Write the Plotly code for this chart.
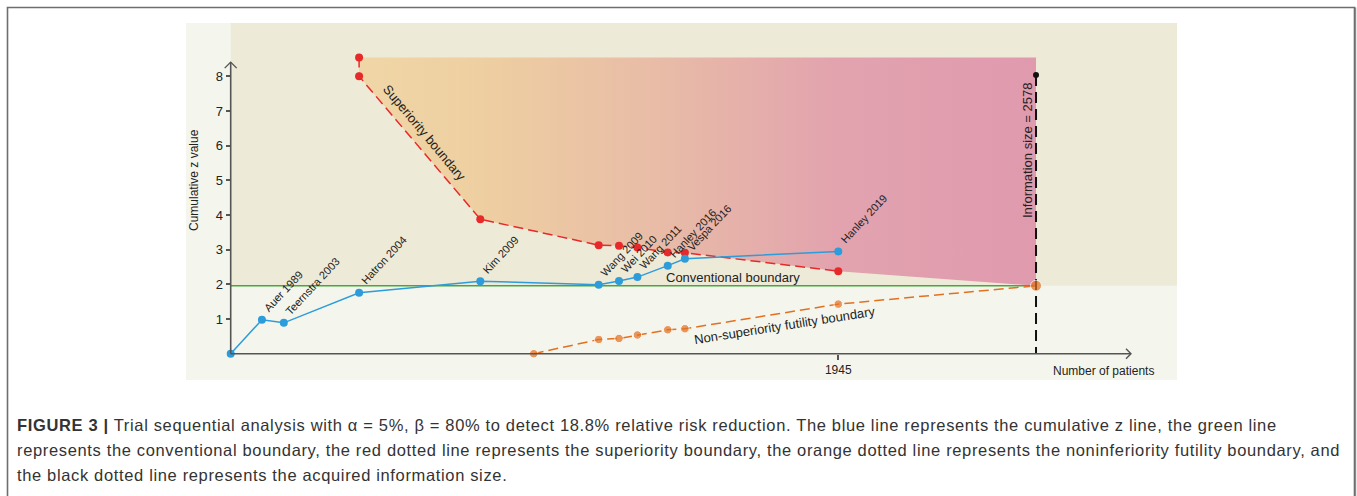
import plotly.graph_objects as go

W, H = 1357, 496

# Cumulative z curve (one point per added trial)
studies = ["Auer 1989", "Teernstra 2003", "Hatron 2004", "Kim 2009", "Wang 2009",
           "Wei 2010", "Wang 2011", "Hanley 2016", "Vespa 2016", "Hanley 2019"]
patients = [100, 170, 411, 799, 1178, 1243, 1302, 1399, 1454, 1945]
cum_z = [0.98, 0.89, 1.76, 2.09, 1.99, 2.10, 2.21, 2.54, 2.74, 2.95]

# Trial sequential monitoring boundaries
sup_n = [411, 411, 799, 1178, 1243, 1302, 1399, 1454, 1945]
sup_z = [8.54, 8.00, 3.88, 3.13, 3.11, 3.06, 2.92, 2.91, 2.38]

fut_n = [970, 1178, 1243, 1302, 1399, 1454, 1945, 2578]
fut_z = [0.00, 0.41, 0.44, 0.54, 0.69, 0.72, 1.43, 1.96]

conv_z = 1.96
info_size = 2578
info_top_z = 8.04
x_tick_vals = [1945]
y_tick_vals = [1, 2, 3, 4, 5, 6, 7, 8]

# Axis geometry
X_RANGE = [-143.1, 3029.3]
Y_RANGE = [-0.7586, 9.5384]
X_DOMAIN = [186 / W, 1177 / W]
Y_DOMAIN = [1 - 380 / H, 1 - 23 / H]
X_ARROW_END = 2882
Y_ARROW_END = 8.41
PX_PER_N = 991 / (X_RANGE[1] - X_RANGE[0])
PX_PER_Z = 357 / (Y_RANGE[1] - Y_RANGE[0])

BLUE = "#2D9CDA"
RED = "#E8292A"
ORANGE = "#E4701F"
GREEN = "#46A83B"
AXIS = "#555555"
BEIGE = "#EEEAD8"
PALE = "#F4F6EE"
FONT = "Liberation Sans, Arial, sans-serif"


def px(x):
    return x / W


def py(y):
    return 1 - y / H


fig = go.Figure()

# Region between the superiority boundary and the top of the panel
top_z = sup_z[0]
fill_x = [sup_n[0], info_size, info_size] + sup_n[::-1]
fill_y = [top_z, top_z, conv_z] + sup_z[::-1]
fig.add_trace(go.Scatter(
    x=fill_x, y=fill_y, mode="lines", fill="toself",
    line=dict(width=0, color="rgba(0,0,0,0)"),
    fillgradient=dict(type="horizontal", colorscale=[
        [0.0, "#F0D6A6"], [0.18, "#EECFA1"], [0.45, "#E8BBA7"],
        [0.7, "#E2A3AE"], [1.0, "#E09AAE"]]),
    hoverinfo="skip", showlegend=False))

# Conventional boundary
fig.add_trace(go.Scatter(
    x=[0, info_size], y=[conv_z, conv_z], mode="lines",
    line=dict(color=GREEN, width=1.5), showlegend=False, hoverinfo="skip"))

# Information size
fig.add_trace(go.Scatter(
    x=[info_size, info_size], y=[info_top_z, 0], mode="lines",
    line=dict(color="#111111", width=2, dash="11px,6px"),
    showlegend=False, hoverinfo="skip"))
fig.add_trace(go.Scatter(
    x=[info_size], y=[info_top_z], mode="markers",
    marker=dict(color="#111111", size=6), showlegend=False, hoverinfo="skip"))

# Superiority boundary
fig.add_trace(go.Scatter(
    x=sup_n, y=sup_z, mode="lines+markers",
    line=dict(color=RED, width=1.5, dash="10px,5px"),
    marker=dict(color=RED, size=8), showlegend=False))

# Non-superiority futility boundary
fut_sizes = [8.5] * (len(fut_n) - 1) + [11]
fig.add_trace(go.Scatter(
    x=fut_n, y=fut_z, mode="lines+markers",
    line=dict(color=ORANGE, width=1.5, dash="10px,5px"),
    marker=dict(color=ORANGE, size=fut_sizes), showlegend=False))

# Cumulative z curve
fig.add_trace(go.Scatter(
    x=[0] + patients, y=[0] + cum_z, mode="lines+markers",
    line=dict(color=BLUE, width=1.5),
    marker=dict(color=BLUE, size=8), showlegend=False))

ax_dx = 6 / PX_PER_N
ax_dz = 6 / PX_PER_Z
bx_dx = 5 / PX_PER_N
bx_dz = 5 / PX_PER_Z
shapes = [
    # beige band above the conventional boundary
    dict(type="rect", xref="x", yref="y", x0=0, x1=X_RANGE[1], y0=conv_z, y1=Y_RANGE[1],
         fillcolor=BEIGE, line=dict(width=0), layer="below"),
    # axes with open arrowheads
    dict(type="line", xref="x", yref="y", x0=0, y0=0, x1=0, y1=Y_ARROW_END,
         line=dict(color=AXIS, width=1.6)),
    dict(type="line", xref="x", yref="y", x0=0, y0=0, x1=X_ARROW_END, y1=0,
         line=dict(color=AXIS, width=1.6)),
    dict(type="path", xref="x", yref="y",
         path=f"M {-ax_dx} {Y_ARROW_END - ax_dz} L 0 {Y_ARROW_END} L {ax_dx} {Y_ARROW_END - ax_dz}",
         line=dict(color=AXIS, width=1.4)),
    dict(type="path", xref="x", yref="y",
         path=f"M {X_ARROW_END - bx_dx} {bx_dz} L {X_ARROW_END} 0 L {X_ARROW_END - bx_dx} {-bx_dz}",
         line=dict(color=AXIS, width=1.4)),
    # outer frame
    dict(type="rect", xref="paper", yref="paper", x0=px(7.5), x1=px(1354.5), y0=py(520), y1=py(7.5),
         line=dict(color="#6E6E6E", width=1.6), fillcolor="rgba(0,0,0,0)"),
    dict(type="line", xref="paper", yref="paper", x0=px(1355.6), x1=px(1355.6), y0=py(520), y1=py(7.5),
         line=dict(color="#8A8A8A", width=1.2)),
]

annotations = []
for name, n, z in zip(studies, patients, cum_z):
    annotations.append(dict(
        x=n, y=z, xref="x", yref="y", text=name, showarrow=False,
        xanchor="left", yanchor="bottom", textangle=-47, xshift=-3, yshift=3,
        font=dict(family=FONT, size=11, color="#222222")))

labels = [
    ("Superiority boundary", 424, 133, 50, 13),
    ("Conventional boundary", 733, 277.5, 0, 13),
    ("Non-superiority futility boundary", 784, 325, -9, 13),
    ("Information size = 2578", 1027, 150, -90, 13),
    ("Cumulative z value", 194, 180, -90, 12),
    ("Number of patients", 1103, 371, 0, 12),
]
for text, x, y, ang, size in labels:
    annotations.append(dict(
        x=px(x), y=py(y), xref="paper", yref="paper", text=text, showarrow=False,
        xanchor="center", yanchor="middle", textangle=ang,
        font=dict(family=FONT, size=size, color="#222222")))

caption = [
    "<b>FIGURE 3 |</b> Trial sequential analysis with α = 5%, β = 80% to detect 18.8% relative risk reduction. "
    "The blue line represents the cumulative z line, the green line",
    "represents the conventional boundary, the red dotted line represents the superiority boundary, "
    "the orange dotted line represents the noninferiority futility boundary, and",
    "the black dotted line represents the acquired information size.",
]
for i, line in enumerate(caption):
    annotations.append(dict(
        x=px(15), y=py(425 + 25 * i), xref="paper", yref="paper",
        text=f'<span style="letter-spacing:0.65px">{line}</span>', showarrow=False,
        xanchor="left", yanchor="middle",
        font=dict(family=FONT, size=16.5, color="#333333")))

fig.update_layout(
    width=W, height=H,
    margin=dict(l=0, r=0, t=0, b=0),
    paper_bgcolor="white",
    plot_bgcolor=PALE,
    shapes=shapes,
    annotations=annotations,
    xaxis=dict(domain=X_DOMAIN, range=X_RANGE, anchor="free", position=py(353.7),
               showgrid=False, zeroline=False, showline=False,
               ticks="outside", ticklen=5, tickwidth=1.5, tickcolor=AXIS,
               tickvals=x_tick_vals, ticktext=[str(v) for v in x_tick_vals],
               tickfont=dict(family=FONT, size=12, color="#222222")),
    yaxis=dict(domain=Y_DOMAIN, range=Y_RANGE, anchor="free", position=px(230.7),
               showgrid=False, zeroline=False, showline=False,
               ticks="outside", ticklen=5, tickwidth=1.5, tickcolor=AXIS,
               tickvals=y_tick_vals, ticktext=[str(v) for v in y_tick_vals],
               tickfont=dict(family=FONT, size=13, color="#222222")),
    showlegend=False,
)

fig.write_html("out.html")
